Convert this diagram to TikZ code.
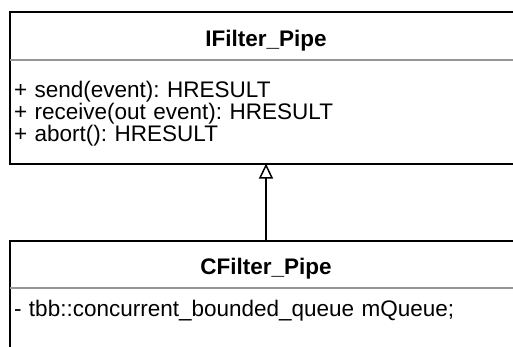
\documentclass[tikz,border=0pt]{standalone}
\usepackage{fontspec}
\setmainfont{Liberation Sans}
\usetikzlibrary{positioning,arrows.meta}

\definecolor{sepgray}{RGB}{150,150,150}

\tikzset{
	classhead/.style={minimum width=512pt, inner sep=0pt, text height=21pt, text depth=0pt,
		font=\fontsize{22.5}{22}\selectfont\bfseries},
	classbody/.style={anchor=north, text width=504pt, inner xsep=4pt, align=left,
		text height=16pt, font=\fontsize{22.5}{22}\selectfont\frenchspacing},
	classframe/.style={line width=2pt},
	classsep/.style={line width=1.5pt, sepgray},
	inherits/.style={line width=1.5pt, -{Triangle[open, width=14pt, length=15pt]}}
}

\begin{document}
\begin{tikzpicture}[x=1pt, y=-1pt]
			\useasboundingbox (0,0) rectangle (513,347);
			\clip (0,0) rectangle (513,347);

			% Klasse IFilter_Pipe
			\node[classhead, minimum height=48pt] (ifilterHead) at (266,36) {IFilter\_Pipe};
			\node[classbody, below=0pt of ifilterHead, inner ysep=21pt, text depth=45pt] (ifilterBody)
			{+ send(event): HRESULT\\
			+ receive(out event): HRESULT\\
			+ abort(): HRESULT};
			\draw[classframe] (ifilterHead.north west) rectangle (ifilterBody.south east);
			\draw[classsep] (ifilterHead.south west) -- (ifilterHead.south east);

			% Klasse CFilter_Pipe
			\node[classhead, minimum height=47pt, below=77pt of ifilterBody] (cfilterHead) {CFilter\_Pipe};
			\node[classbody, below=0pt of cfilterHead, inner ysep=12pt, text depth=60pt] (cfilterBody)
			{- tbb::concurrent\_bounded\_queue mQueue;};
			\draw[classframe] (cfilterHead.north west) rectangle (cfilterBody.south east);
			\draw[classsep] (cfilterHead.south west) -- (cfilterHead.south east);

			% Vererbung
			\draw[inherits] (cfilterHead.north) -- (ifilterBody.south);

		\end{tikzpicture}
\end{document}
